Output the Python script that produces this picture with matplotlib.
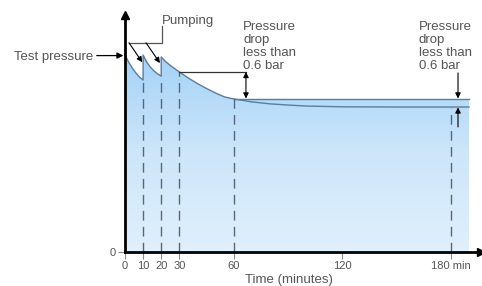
import matplotlib.pyplot as plt
import numpy as np
from matplotlib.path import Path
from matplotlib.patches import PathPatch
from matplotlib.colors import LinearSegmentedColormap

plt.rcParams['font.family'] = ['Liberation Sans', 'DejaVu Sans']

# pressure readings (arbitrary pressure units, test pressure = 10)
t_seg1 = [0, 2, 4, 6, 8, 10]
p_seg1 = [10.0, 9.64, 9.34, 9.09, 8.88, 8.73]
t_seg2 = [10, 12, 14, 16, 18, 20]
p_seg2 = [10.0, 9.64, 9.39, 9.19, 9.04, 8.93]
t_seg3 = [20, 22, 25, 30, 35, 40, 45, 50, 55, 60]
p_seg3 = [9.90, 9.70, 9.47, 9.14, 8.83, 8.55, 8.30, 8.07, 7.87, 7.77]
t_seg4 = [60, 70, 80, 90, 100, 120, 150, 190]
p_seg4 = [7.77, 7.62, 7.52, 7.46, 7.41, 7.37, 7.36, 7.36]
p_level60 = 7.77
t_end = 190

dash_t = [10, 20, 30, 60, 180]
dash_top = [8.73, 8.93, 9.14, 7.77, 7.30]

xticks = [0, 10, 20, 30, 60, 120, 180]
xticklabels = ['0', '10', '20', '30', '60', '120', '180 min']

line_col = '#5b7d9e'
grey = '#555555'

fig = plt.figure(figsize=(4.82, 2.86), dpi=100)
ax = fig.add_axes([125 / 482, 34 / 286, 356 / 482, 237 / 286])
ax.set_xlim(0, 196.6)
ax.set_ylim(0, 12.03)

# outline of the pressure curve (with jumps at pumping)
t_all = t_seg1 + t_seg2 + t_seg3 + t_seg4
p_all = p_seg1 + p_seg2 + p_seg3 + p_seg4

# fill polygon: curve up to 60 min, then level line to the end
poly_t = t_seg1 + t_seg2 + t_seg3 + [t_end, t_end, 0]
poly_p = p_seg1 + p_seg2 + p_seg3 + [p_level60, 0, 0]
verts = list(zip(poly_t, poly_p))
patch = PathPatch(Path(verts + [verts[0]], closed=True), facecolor='none', edgecolor='none')
ax.add_patch(patch)

cmap = LinearSegmentedColormap.from_list('blu', ['#e0f0fc', '#cde6fa', '#a4d2f7'])
grad = np.linspace(0, 1, 256).reshape(-1, 1)
im = ax.imshow(grad, cmap=cmap, origin='lower', aspect='auto',
               extent=[0, t_end, 0, 10], zorder=1)
im.set_clip_path(patch)

ax.plot(t_all, p_all, color=line_col, lw=1.0, zorder=3)
ax.plot([60, t_end], [p_level60, p_level60], color=line_col, lw=1.0, zorder=3)

for t, top in zip(dash_t, dash_top):
    ax.plot([t, t], [0, top], color='#56687c', lw=1.0,
            dashes=(7, 4.5), zorder=3)

# axes styling
for s in ['top', 'right']:
    ax.spines[s].set_visible(False)
for s in ['left', 'bottom']:
    ax.spines[s].set_linewidth(2.0)
    ax.spines[s].set_color('black')
    ax.spines[s].set_zorder(5)
ax.plot(1, 0, '>k', ms=6, transform=ax.transAxes, clip_on=False, zorder=6)
ax.plot(0, 1, '^k', ms=6, transform=ax.transAxes, clip_on=False, zorder=6)

ax.set_xticks(xticks)
ax.set_xticklabels(xticklabels)
ax.set_yticks([0])
ax.set_yticklabels(['0'])
ax.tick_params(axis='both', length=5, width=0.8, color='#888888',
               labelcolor=grey, labelsize=8, pad=1.5)
ax.text(90.5, -1.42, 'Time (minutes)', ha='center', va='center',
        fontsize=9.5, color=grey, clip_on=False)

# annotations
ax.text(-17.8, 9.77, 'Test pressure', ha='right', va='baseline',
        fontsize=9.5, color=grey, clip_on=False)
ax.annotate('', xy=(-0.9, 9.97), xytext=(-15.6, 9.97), annotation_clip=False,
            arrowprops=dict(arrowstyle='-|>', color='black', lw=0.9,
                            mutation_scale=9, shrinkA=0, shrinkB=0))

ax.text(20.6, 11.55, 'Pumping', ha='left', va='baseline', fontsize=9.5, color=grey)
ax.plot([20.3, 20.3, 2.2], [11.48, 10.62, 10.62], color=grey, lw=0.9)
for x0, x1, y1 in [(2.2, 9.55, 9.63), (11.6, 19.3, 9.59)]:
    ax.annotate('', xy=(x1, y1), xytext=(x0, 10.62),
                arrowprops=dict(arrowstyle='-|>', color='black', lw=0.8,
                                mutation_scale=8, shrinkA=0, shrinkB=0))

ax.plot([30, 66.8], [9.14, 9.14], color='#333333', lw=0.9, zorder=3)
ax.annotate('', xy=(66.8, 9.14), xytext=(66.8, 7.79),
            arrowprops=dict(arrowstyle='<|-|>', color='black', lw=0.8,
                            mutation_scale=8, shrinkA=0, shrinkB=0))

ax.annotate('', xy=(183.9, 7.79), xytext=(183.9, 9.09),
            arrowprops=dict(arrowstyle='-|>', color='black', lw=0.8,
                            mutation_scale=8, shrinkA=0, shrinkB=0))
ax.annotate('', xy=(183.9, 7.34), xytext=(183.9, 6.35),
            arrowprops=dict(arrowstyle='-|>', color='black', lw=0.8,
                            mutation_scale=8, shrinkA=0, shrinkB=0), zorder=4)

drop_text = 'Pressure\ndrop\nless than\n0.6 bar'
ax.text(65.2, 9.29, drop_text, ha='left', va='baseline', fontsize=9.5,
        color=grey, linespacing=1.1)
ax.text(162.3, 9.29, drop_text, ha='left', va='baseline', fontsize=9.5,
        color=grey, linespacing=1.1)

plt.savefig('out.png', dpi=100)
